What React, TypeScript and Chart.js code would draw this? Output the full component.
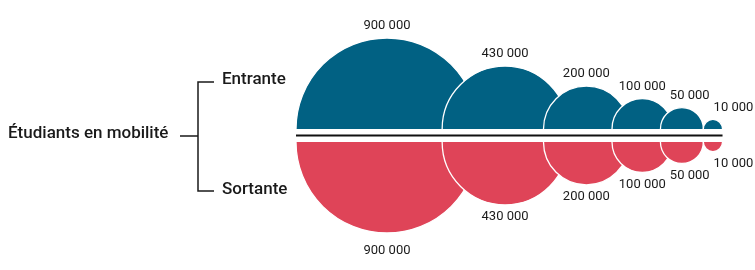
import React, { useEffect, useRef } from 'react';
import { Chart, registerables } from 'chart.js';

Chart.register(...registerables);

// ---- Data ----
const categories = ['900 000', '430 000', '200 000', '100 000', '50 000', '10 000'];
const incomingValues = [900000, 430000, 200000, 100000, 50000, 10000];
const outgoingValues = [900000, 430000, 200000, 100000, 50000, 10000];
const seriesNames = ['Entrante', 'Sortante'];
const groupLabel = 'Étudiants en mobilité';

// ---- Styles ----
const BLUE = '#016183';
const RED = '#DF4458';
const TEXT = '#1a1a1a';

// Packing of the half-bubbles along the axis (in "max radius" units)
function packLayout() {
  const maxV = Math.max(...incomingValues, ...outgoingValues);
  const rIn = incomingValues.map((v) => Math.sqrt(v / maxV));
  const rOut = outgoingValues.map((v) => Math.sqrt(v / maxV));
  const rMax = rIn.map((r, i) => Math.max(r, rOut[i]));
  const centers: number[] = [];
  let c = rMax[0];
  centers.push(c);
  for (let i = 1; i < rMax.length; i++) {
    const rn = rMax[i];
    const overlap = (rn < 0.15 ? 0.0 : 0.57) * rn;
    c = c + rMax[i - 1] + rn - overlap;
    centers.push(c);
  }
  return { rIn, rOut, rMax, centers };
}

const halfBubblePlugin = {
  id: 'halfBubbles',
  afterDatasetsDraw(chart: any) {
    const { ctx } = chart;
    const xs = chart.scales.x;
    const ys = chart.scales.y;
    const { rIn, rOut, rMax, centers } = packLayout();
    const y0 = ys.getPixelForValue(0);
    const gap = 6.5;
    const unit = (u: number) => xs.getPixelForValue(u) - xs.getPixelForValue(0);

    ctx.save();
    const drawSet = (radii: number[], up: boolean, color: string) => {
      const base = up ? y0 - gap : y0 + gap;
      radii.forEach((ru, i) => {
        const cx = xs.getPixelForValue(centers[i]);
        const r = unit(ru);
        ctx.beginPath();
        ctx.moveTo(cx - r, base);
        if (up) ctx.arc(cx, base, r, Math.PI, 2 * Math.PI, false);
        else ctx.arc(cx, base, r, 0, Math.PI, false);
        ctx.closePath();
        ctx.fillStyle = color;
        ctx.fill();
        ctx.beginPath();
        if (up) ctx.arc(cx, base, r, Math.PI, 2 * Math.PI, false);
        else ctx.arc(cx, base, r, 0, Math.PI, false);
        ctx.strokeStyle = '#ffffff';
        ctx.lineWidth = 1.3;
        ctx.stroke();
      });
    };
    drawSet(rIn, true, BLUE);
    drawSet(rOut, false, RED);

    // central axis line
    const n = rMax.length;
    const left = xs.getPixelForValue(centers[0] - rMax[0]);
    const right = xs.getPixelForValue(centers[n - 1] + rMax[n - 1]);
    ctx.beginPath();
    ctx.moveTo(left, y0);
    ctx.lineTo(right, y0);
    ctx.strokeStyle = '#111111';
    ctx.lineWidth = 2;
    ctx.stroke();

    // value labels
    ctx.font = '13px Roboto';
    ctx.fillStyle = TEXT;
    ctx.textBaseline = 'middle';
    ctx.textAlign = 'left';
    const placeLabels = (radii: number[], up: boolean) => {
      const base = up ? y0 - gap : y0 + gap;
      let prevRight = -Infinity;
      radii.forEach((ru, i) => {
        const cx = xs.getPixelForValue(centers[i]);
        const r = unit(ru);
        const text = categories[i];
        const w = ctx.measureText(text).width;
        let lx = cx - w / 2;
        if (lx < prevRight + 4) lx = prevRight + 4;
        prevRight = lx + w;
        const ly = up ? base - r - 12 : base + r + (i === 0 ? 18 : 12);
        ctx.fillText(text, lx, ly);
      });
    };
    placeLabels(rIn, true);
    placeLabels(rOut, false);
    ctx.restore();
  },
  afterDraw(chart: any) {
    const { ctx } = chart;
    const ys = chart.scales.y;
    const y0 = ys.getPixelForValue(0);
    ctx.save();
    ctx.fillStyle = TEXT;
    ctx.strokeStyle = TEXT;
    ctx.font = '500 17px Roboto';
    ctx.textBaseline = 'middle';
    ctx.textAlign = 'left';
    ctx.fillText(groupLabel, 8, y0 - 2);
    ctx.fillText(seriesNames[0], 222, 80);
    ctx.fillText(seriesNames[1], 222, 190);
    ctx.lineWidth = 1.5;
    ctx.beginPath();
    ctx.moveTo(180, y0 + 0.5);
    ctx.lineTo(198, y0 + 0.5);
    ctx.moveTo(214, 82);
    ctx.lineTo(198, 82);
    ctx.lineTo(198, 191);
    ctx.lineTo(214, 191);
    ctx.stroke();
    ctx.restore();
  },
};

export default function App() {
  const ref = useRef<HTMLCanvasElement | null>(null);
  useEffect(() => {
    if (!ref.current) return;
    const { centers } = packLayout();
    const chart = new Chart(ref.current, {
      type: 'scatter',
      data: {
        datasets: [
          {
            label: seriesNames[0],
            data: centers.map((x) => ({ x, y: 0 })),
            pointRadius: 0,
            backgroundColor: BLUE,
          },
          {
            label: seriesNames[1],
            data: centers.map((x) => ({ x, y: 0 })),
            pointRadius: 0,
            backgroundColor: RED,
          },
        ],
      },
      options: {
        responsive: false,
        animation: false,
        events: [],
        layout: { padding: { left: 296, right: 4, top: 35, bottom: 34 } },
        plugins: { legend: { display: false }, tooltip: { enabled: false } },
        scales: {
          x: { type: 'linear', min: 0, max: 5, display: false },
          y: { type: 'linear', min: -1, max: 1, display: false },
        },
      },
      plugins: [halfBubblePlugin],
    });
    return () => chart.destroy();
  }, []);
  return (
    <div style={{ position: 'fixed', left: 0, top: 0, width: 755, height: 270, background: '#fff' }}>
      <canvas ref={ref} width={755} height={270} />
    </div>
  );
}
